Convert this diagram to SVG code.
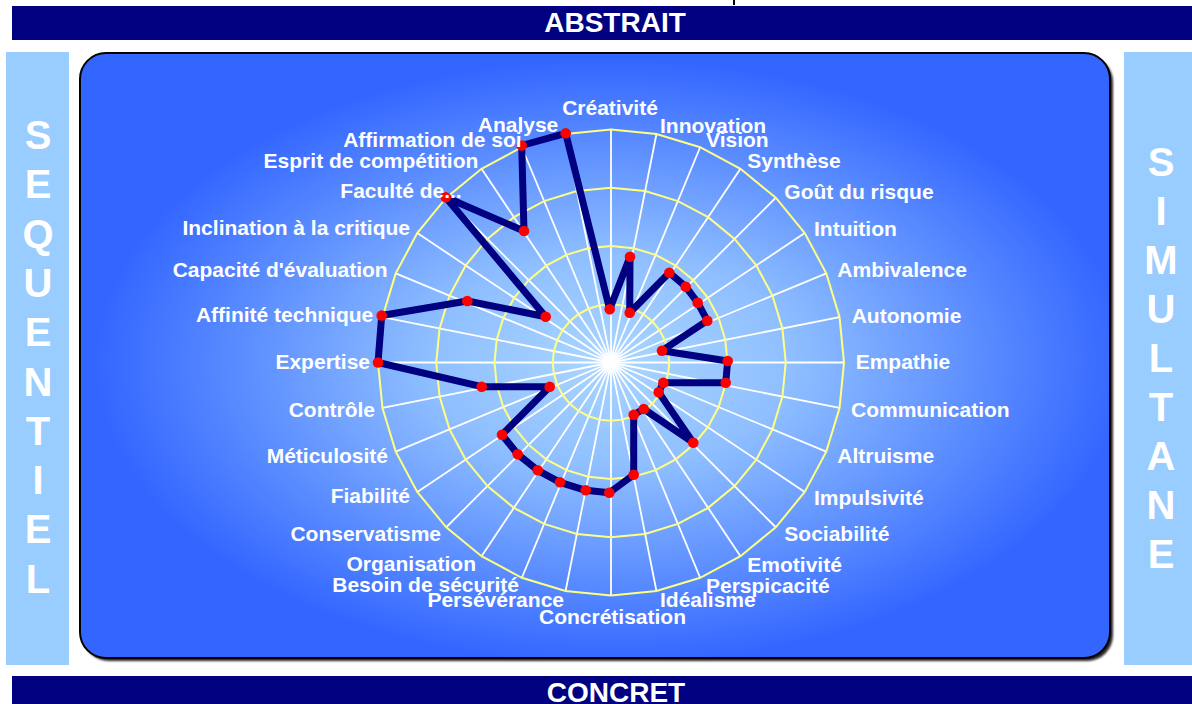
<svg xmlns="http://www.w3.org/2000/svg" xmlns:xlink="http://www.w3.org/1999/xlink" width="1192" height="704" viewBox="0 0 1192 704">
<defs>
<radialGradient id="bg" cx="0.515" cy="0.51" r="0.5">
<stop offset="0" stop-color="#aad6ff"/>
<stop offset="0.35" stop-color="#8fbfff"/>
<stop offset="1" stop-color="#3366ff"/>
</radialGradient>
<filter id="blur" x="-5%" y="-5%" width="110%" height="110%"><feGaussianBlur stdDeviation="1.2"/></filter>
<polygon id="ring" points="0,-233 45.46,-228.52 89.16,-215.26 129.45,-193.73 164.76,-164.76 193.73,-129.45 215.26,-89.16 228.52,-45.46 233,0 228.52,45.46 215.26,89.16 193.73,129.45 164.76,164.76 129.45,193.73 89.16,215.26 45.46,228.52 0,233 -45.46,228.52 -89.16,215.26 -129.45,193.73 -164.76,164.76 -193.73,129.45 -215.26,89.16 -228.52,45.46 -233,0 -228.52,-45.46 -215.26,-89.16 -193.73,-129.45 -164.76,-164.76 -129.45,-193.73 -89.16,-215.26 -45.46,-228.52"/>
<line id="spoke" x1="0" y1="0" x2="0" y2="-233"/>
</defs>
<style>
.bar{fill:#000080}
.side{fill:#99ccff}
.bartxt{font-family:"Liberation Sans",Arial,sans-serif;font-weight:bold;font-size:28px;fill:#fff;text-anchor:middle}
.sidetxt{font-family:"Liberation Sans",Arial,sans-serif;font-weight:bold;font-size:40px;fill:#fff;text-anchor:middle}
.lbl{font-family:"Liberation Sans",Arial,sans-serif;font-weight:bold;font-size:21px;fill:#fff}
.s{text-anchor:start}.e{text-anchor:end}.m{text-anchor:middle}
.ringline{fill:none;stroke:#ffff80}
.spk{stroke:#fff;stroke-width:1.8}
.data{fill:none;stroke:#000080;stroke-width:7;stroke-linejoin:round}
.mk{fill:#ff0000}
</style>

<rect x="733" y="0" width="2" height="5" fill="#000"/>

<g id="top-bar"><rect class="bar" x="12" y="6" width="1180" height="34"/><text class="bartxt" x="615" y="32">ABSTRAIT</text></g>
<g id="bottom-bar"><rect class="bar" x="12" y="676" width="1180" height="28"/><text class="bartxt" x="616" y="702">CONCRET</text></g>

<g id="left-bar"><rect class="side" x="6" y="52" width="63" height="613"/>
<text class="sidetxt" x="38" y="149">S</text><text class="sidetxt" x="38" y="198.3">E</text><text class="sidetxt" x="38" y="247.6">Q</text><text class="sidetxt" x="38" y="296.9">U</text><text class="sidetxt" x="38" y="346.2">E</text><text class="sidetxt" x="38" y="395.5">N</text><text class="sidetxt" x="38" y="444.8">T</text><text class="sidetxt" x="38" y="494.1">I</text><text class="sidetxt" x="38" y="543.4">E</text><text class="sidetxt" x="38" y="592.7">L</text>
</g>
<g id="right-bar"><rect class="side" x="1124" y="52" width="68" height="613"/>
<text class="sidetxt" x="1161" y="176">S</text><text class="sidetxt" x="1161" y="225">I</text><text class="sidetxt" x="1161" y="274">M</text><text class="sidetxt" x="1161" y="323">U</text><text class="sidetxt" x="1161" y="372">L</text><text class="sidetxt" x="1161" y="421">T</text><text class="sidetxt" x="1161" y="470">A</text><text class="sidetxt" x="1161" y="519">N</text><text class="sidetxt" x="1161" y="568">E</text>
</g>

<g id="panel">
<rect x="83" y="56" width="1030" height="605" rx="26" fill="#000" opacity="0.85" filter="url(#blur)"/>
<rect x="80" y="53" width="1030" height="605" rx="26" fill="url(#bg)" stroke="#000" stroke-width="2"/>
</g>

<g id="grid" transform="translate(611,362.5)">
<g class="spk">
<use xlink:href="#spoke"/><use xlink:href="#spoke" transform="rotate(11.25)"/><use xlink:href="#spoke" transform="rotate(22.5)"/><use xlink:href="#spoke" transform="rotate(33.75)"/><use xlink:href="#spoke" transform="rotate(45)"/><use xlink:href="#spoke" transform="rotate(56.25)"/><use xlink:href="#spoke" transform="rotate(67.5)"/><use xlink:href="#spoke" transform="rotate(78.75)"/><use xlink:href="#spoke" transform="rotate(90)"/><use xlink:href="#spoke" transform="rotate(101.25)"/><use xlink:href="#spoke" transform="rotate(112.5)"/><use xlink:href="#spoke" transform="rotate(123.75)"/><use xlink:href="#spoke" transform="rotate(135)"/><use xlink:href="#spoke" transform="rotate(146.25)"/><use xlink:href="#spoke" transform="rotate(157.5)"/><use xlink:href="#spoke" transform="rotate(168.75)"/><use xlink:href="#spoke" transform="rotate(180)"/><use xlink:href="#spoke" transform="rotate(191.25)"/><use xlink:href="#spoke" transform="rotate(202.5)"/><use xlink:href="#spoke" transform="rotate(213.75)"/><use xlink:href="#spoke" transform="rotate(225)"/><use xlink:href="#spoke" transform="rotate(236.25)"/><use xlink:href="#spoke" transform="rotate(247.5)"/><use xlink:href="#spoke" transform="rotate(258.75)"/><use xlink:href="#spoke" transform="rotate(270)"/><use xlink:href="#spoke" transform="rotate(281.25)"/><use xlink:href="#spoke" transform="rotate(292.5)"/><use xlink:href="#spoke" transform="rotate(303.75)"/><use xlink:href="#spoke" transform="rotate(315)"/><use xlink:href="#spoke" transform="rotate(326.25)"/><use xlink:href="#spoke" transform="rotate(337.5)"/><use xlink:href="#spoke" transform="rotate(348.75)"/>
</g>
<use xlink:href="#ring" class="ringline" stroke-width="8" transform="scale(0.25)"/>
<use xlink:href="#ring" class="ringline" stroke-width="4" transform="scale(0.5)"/>
<use xlink:href="#ring" class="ringline" stroke-width="2.667" transform="scale(0.75)"/>
<use xlink:href="#ring" class="ringline" stroke-width="2"/>
</g>

<g id="connectors">
<polygon class="data" points="609.7,309.3 630,256.7 629.7,312.7 669.3,272.7 685.7,286.7 697.7,302.7 707.3,320.7 662,350.7 727.7,361 725.7,382.7 663.3,382.7 658.7,392.3 693.3,442.7 643.7,409 633.7,414.7 633.7,474.7 609.3,492.7 585.7,490.3 560,482.3 537.7,470.3 517.7,454.3 502,434.7 549.7,386.7 481.7,386.7 378,362.5 381.7,315.5 467.3,301 545.7,316.7 445.7,197.3 524,231 521.7,145.5 565.7,133.3"/>
</g>

<g id="markers">
<circle class="mk" cx="609.7" cy="309.3" r="5.3"/><circle class="mk" cx="630" cy="256.7" r="5.3"/><circle class="mk" cx="629.7" cy="312.7" r="5.3"/><circle class="mk" cx="669.3" cy="272.7" r="5.3"/><circle class="mk" cx="685.7" cy="286.7" r="5.3"/><circle class="mk" cx="697.7" cy="302.7" r="5.3"/><circle class="mk" cx="707.3" cy="320.7" r="5.3"/><circle class="mk" cx="662" cy="350.7" r="5.3"/><circle class="mk" cx="727.7" cy="361" r="5.3"/><circle class="mk" cx="725.7" cy="382.7" r="5.3"/><circle class="mk" cx="663.3" cy="382.7" r="5.3"/><circle class="mk" cx="658.7" cy="392.3" r="5.3"/><circle class="mk" cx="693.3" cy="442.7" r="5.3"/><circle class="mk" cx="643.7" cy="409" r="5.3"/><circle class="mk" cx="633.7" cy="414.7" r="5.3"/><circle class="mk" cx="633.7" cy="474.7" r="5.3"/><circle class="mk" cx="609.3" cy="492.7" r="5.3"/><circle class="mk" cx="585.7" cy="490.3" r="5.3"/><circle class="mk" cx="560" cy="482.3" r="5.3"/><circle class="mk" cx="537.7" cy="470.3" r="5.3"/><circle class="mk" cx="517.7" cy="454.3" r="5.3"/><circle class="mk" cx="502" cy="434.7" r="5.3"/><circle class="mk" cx="549.7" cy="386.7" r="5.3"/><circle class="mk" cx="481.7" cy="386.7" r="5.3"/><circle class="mk" cx="378" cy="362.5" r="5.3"/><circle class="mk" cx="381.7" cy="315.5" r="5.3"/><circle class="mk" cx="467.3" cy="301" r="5.3"/><circle class="mk" cx="545.7" cy="316.7" r="5.3"/><circle class="mk" cx="445.7" cy="197.3" r="5.3"/><circle class="mk" cx="524" cy="231" r="5.3"/><circle class="mk" cx="521.7" cy="145.5" r="5.3"/><circle class="mk" cx="565.7" cy="133.3" r="5.3"/>
</g>

<g id="labels">
<text class="lbl m" x="610" y="115">Créativité</text>
<text class="lbl s" x="660" y="133">Innovation</text>
<text class="lbl s" x="706" y="147">Vision</text>
<text class="lbl s" x="747.3" y="168.3">Synthèse</text>
<text class="lbl s" x="784.3" y="199.3">Goût du risque</text>
<text class="lbl s" x="814" y="236">Intuition</text>
<text class="lbl s" x="837.3" y="277.3">Ambivalence</text>
<text class="lbl s" x="851.7" y="322.7">Autonomie</text>
<text class="lbl s" x="855.7" y="369.3">Empathie</text>
<text class="lbl s" x="851" y="417.3">Communication</text>
<text class="lbl s" x="837.3" y="462.7">Altruisme</text>
<text class="lbl s" x="814" y="505">Impulsivité</text>
<text class="lbl s" x="784.3" y="540.7">Sociabilité</text>
<text class="lbl s" x="747.3" y="571.7">Emotivité</text>
<text class="lbl s" x="706" y="593">Perspicacité</text>
<text class="lbl s" x="660" y="607">Idéalisme</text>
<text class="lbl m" x="612.5" y="624">Concrétisation</text>
<text class="lbl e" x="564" y="607">Persévérance</text>
<text class="lbl e" x="519" y="592">Besoin de sécurité</text>
<text class="lbl e" x="476" y="571">Organisation</text>
<text class="lbl e" x="441" y="541">Conservatisme</text>
<text class="lbl e" x="410" y="503">Fiabilité</text>
<text class="lbl e" x="388" y="463">Méticulosité</text>
<text class="lbl e" x="375" y="417">Contrôle</text>
<text class="lbl e" x="370" y="369">Expertise</text>
<text class="lbl e" x="373.3" y="322">Affinité technique</text>
<text class="lbl e" x="387.7" y="277">Capacité d'évaluation</text>
<text class="lbl e" x="410" y="235">Inclination à la critique</text>
<text class="lbl e" x="461.7" y="198">Faculté de...</text>
<text class="lbl e" x="478.3" y="168">Esprit de compétition</text>
<text class="lbl e" x="521.7" y="147">Affirmation de soi</text>
<text class="lbl e" x="558.3" y="131.5">Analyse</text>
</g>
</svg>
